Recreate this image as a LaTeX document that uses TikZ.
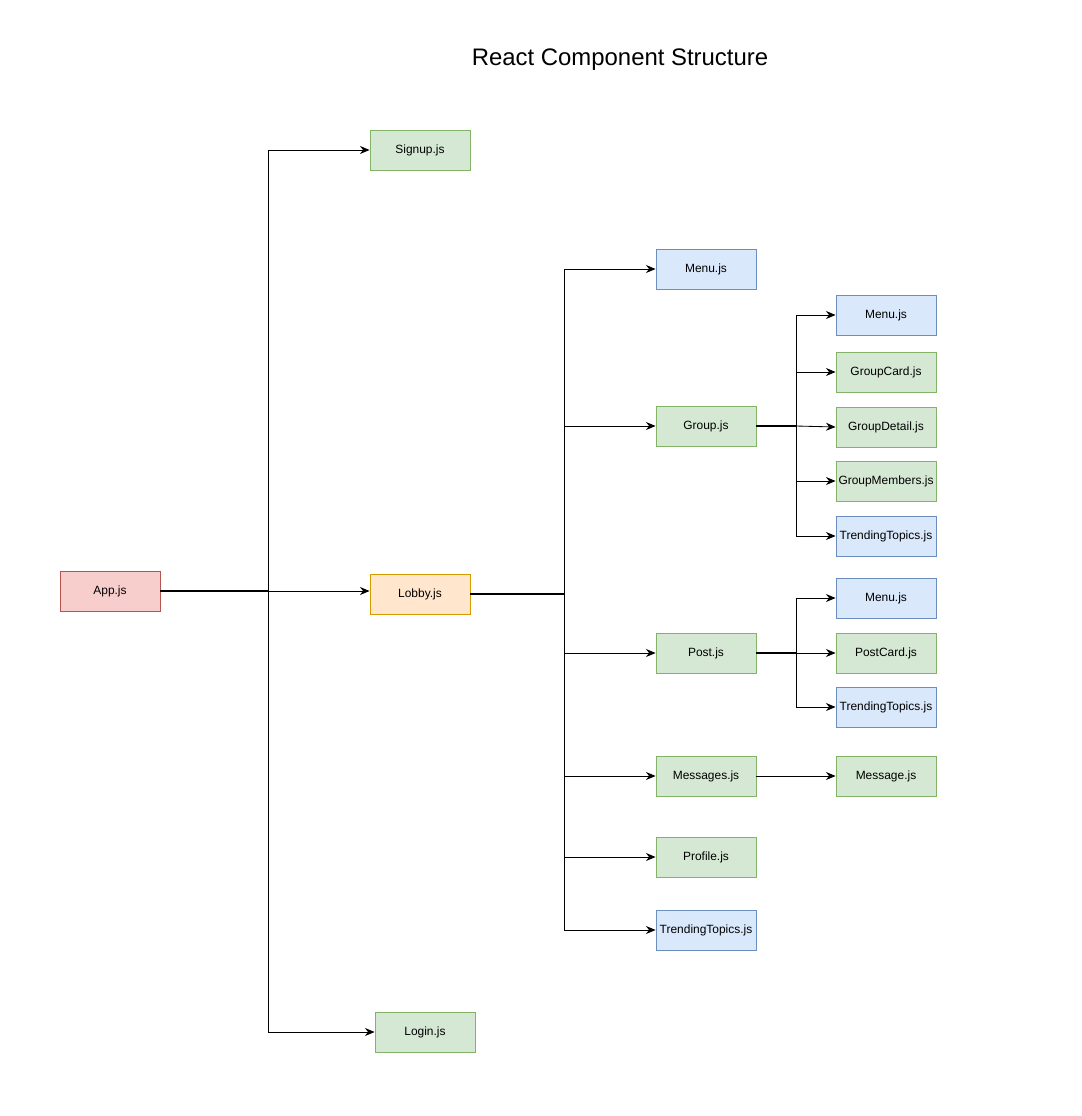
\documentclass[tikz,border=0pt]{standalone}
\usepackage{fontspec}
\setmainfont{Liberation Sans}
\usetikzlibrary{arrows.meta}
\definecolor{greenfill}{HTML}{D5E8D4}
\definecolor{greenline}{HTML}{82B366}
\definecolor{bluefill}{HTML}{DAE8FC}
\definecolor{blueline}{HTML}{6C8EBF}
\definecolor{redfill}{HTML}{F8CECC}
\definecolor{redline}{HTML}{B85450}
\definecolor{orangefill}{HTML}{FFE6CC}
\definecolor{orangeline}{HTML}{D79B00}

\begin{document}
\begin{tikzpicture}[x=0.025cm,y=-0.025cm,>={Stealth[length=2.4mm,width=2mm]},line width=0.6pt,
  font=\fontsize{8.5}{10}\selectfont,
  box/.style={draw,minimum width=2.5cm,minimum height=1cm,inner sep=1pt},
  greenbox/.style={box,draw=greenline,fill=greenfill},
  bluebox/.style={box,draw=blueline,fill=bluefill},
  redbox/.style={box,draw=redline,fill=redfill},
  orangebox/.style={box,draw=orangeline,fill=orangefill},
  stem/.style={line width=1.1pt}]
\useasboundingbox (0,0) rectangle (1082,1116);
\node (title) at (620,60) {\fontsize{17}{20}\selectfont React Component Structure};
% top level
\node[redbox] (app) at (110,591) {App.js};
\node[greenbox] (signup) at (420,150) {Signup.js};
\node[orangebox] (lobby) at (420,594) {Lobby.js};
\node[greenbox] (login) at (425,1032) {Login.js};
% lobby children
\node[bluebox] (menu) at (706,269) {Menu.js};
\node[greenbox] (group) at (706,426) {Group.js};
\node[greenbox] (post) at (706,653) {Post.js};
\node[greenbox] (messages) at (706,776) {Messages.js};
\node[greenbox] (profile) at (706,857) {Profile.js};
\node[bluebox] (trending) at (706,930) {TrendingTopics.js};
% group children
\node[bluebox] (groupmenu) at (886,315) {Menu.js};
\node[greenbox] (groupcard) at (886,372) {GroupCard.js};
\node[greenbox] (groupdetail) at (886,427) {GroupDetail.js};
\node[greenbox] (groupmembers) at (886,481) {GroupMembers.js};
\node[bluebox] (grouptrending) at (886,536) {TrendingTopics.js};
% post children
\node[bluebox] (postmenu) at (886,598) {Menu.js};
\node[greenbox] (postcard) at (886,653) {PostCard.js};
\node[bluebox] (posttrending) at (886,707) {TrendingTopics.js};
\node[greenbox] (message) at (886,776) {Message.js};

\coordinate (appfork) at (268,591);
\draw[stem] (app.east) -- (appfork);
\draw[->] (appfork) |- (signup.west);
\draw[->] (appfork) |- (login.west);
\draw[->] (appfork) -- (appfork -| lobby.west);

\coordinate (lobbyfork) at (564,594);
\draw[stem] (lobby.east) -- (lobbyfork);
\draw[->] (lobbyfork) |- (menu.west);
\draw[->] (lobbyfork) |- (group.west);
\draw[->] (lobbyfork) |- (post.west);
\draw[->] (lobbyfork) |- (messages.west);
\draw[->] (lobbyfork) |- (profile.west);
\draw[->] (lobbyfork) |- (trending.west);

\coordinate (groupfork) at (796,426);
\draw[stem] (group.east) -- (groupfork);
\draw[->] (groupfork) |- (groupmenu.west);
\draw[->] (groupfork) |- (groupcard.west);
\draw[->] (groupfork) -- (groupdetail.west);
\draw[->] (groupfork) |- (groupmembers.west);
\draw[->] (groupfork) |- (grouptrending.west);

\coordinate (postfork) at (796,653);
\draw[stem] (post.east) -- (postfork);
\draw[->] (postfork) |- (postmenu.west);
\draw[->] (postfork) -- (postcard.west);
\draw[->] (postfork) |- (posttrending.west);

\draw[->] (messages) -- (message);
\end{tikzpicture}
\end{document}
